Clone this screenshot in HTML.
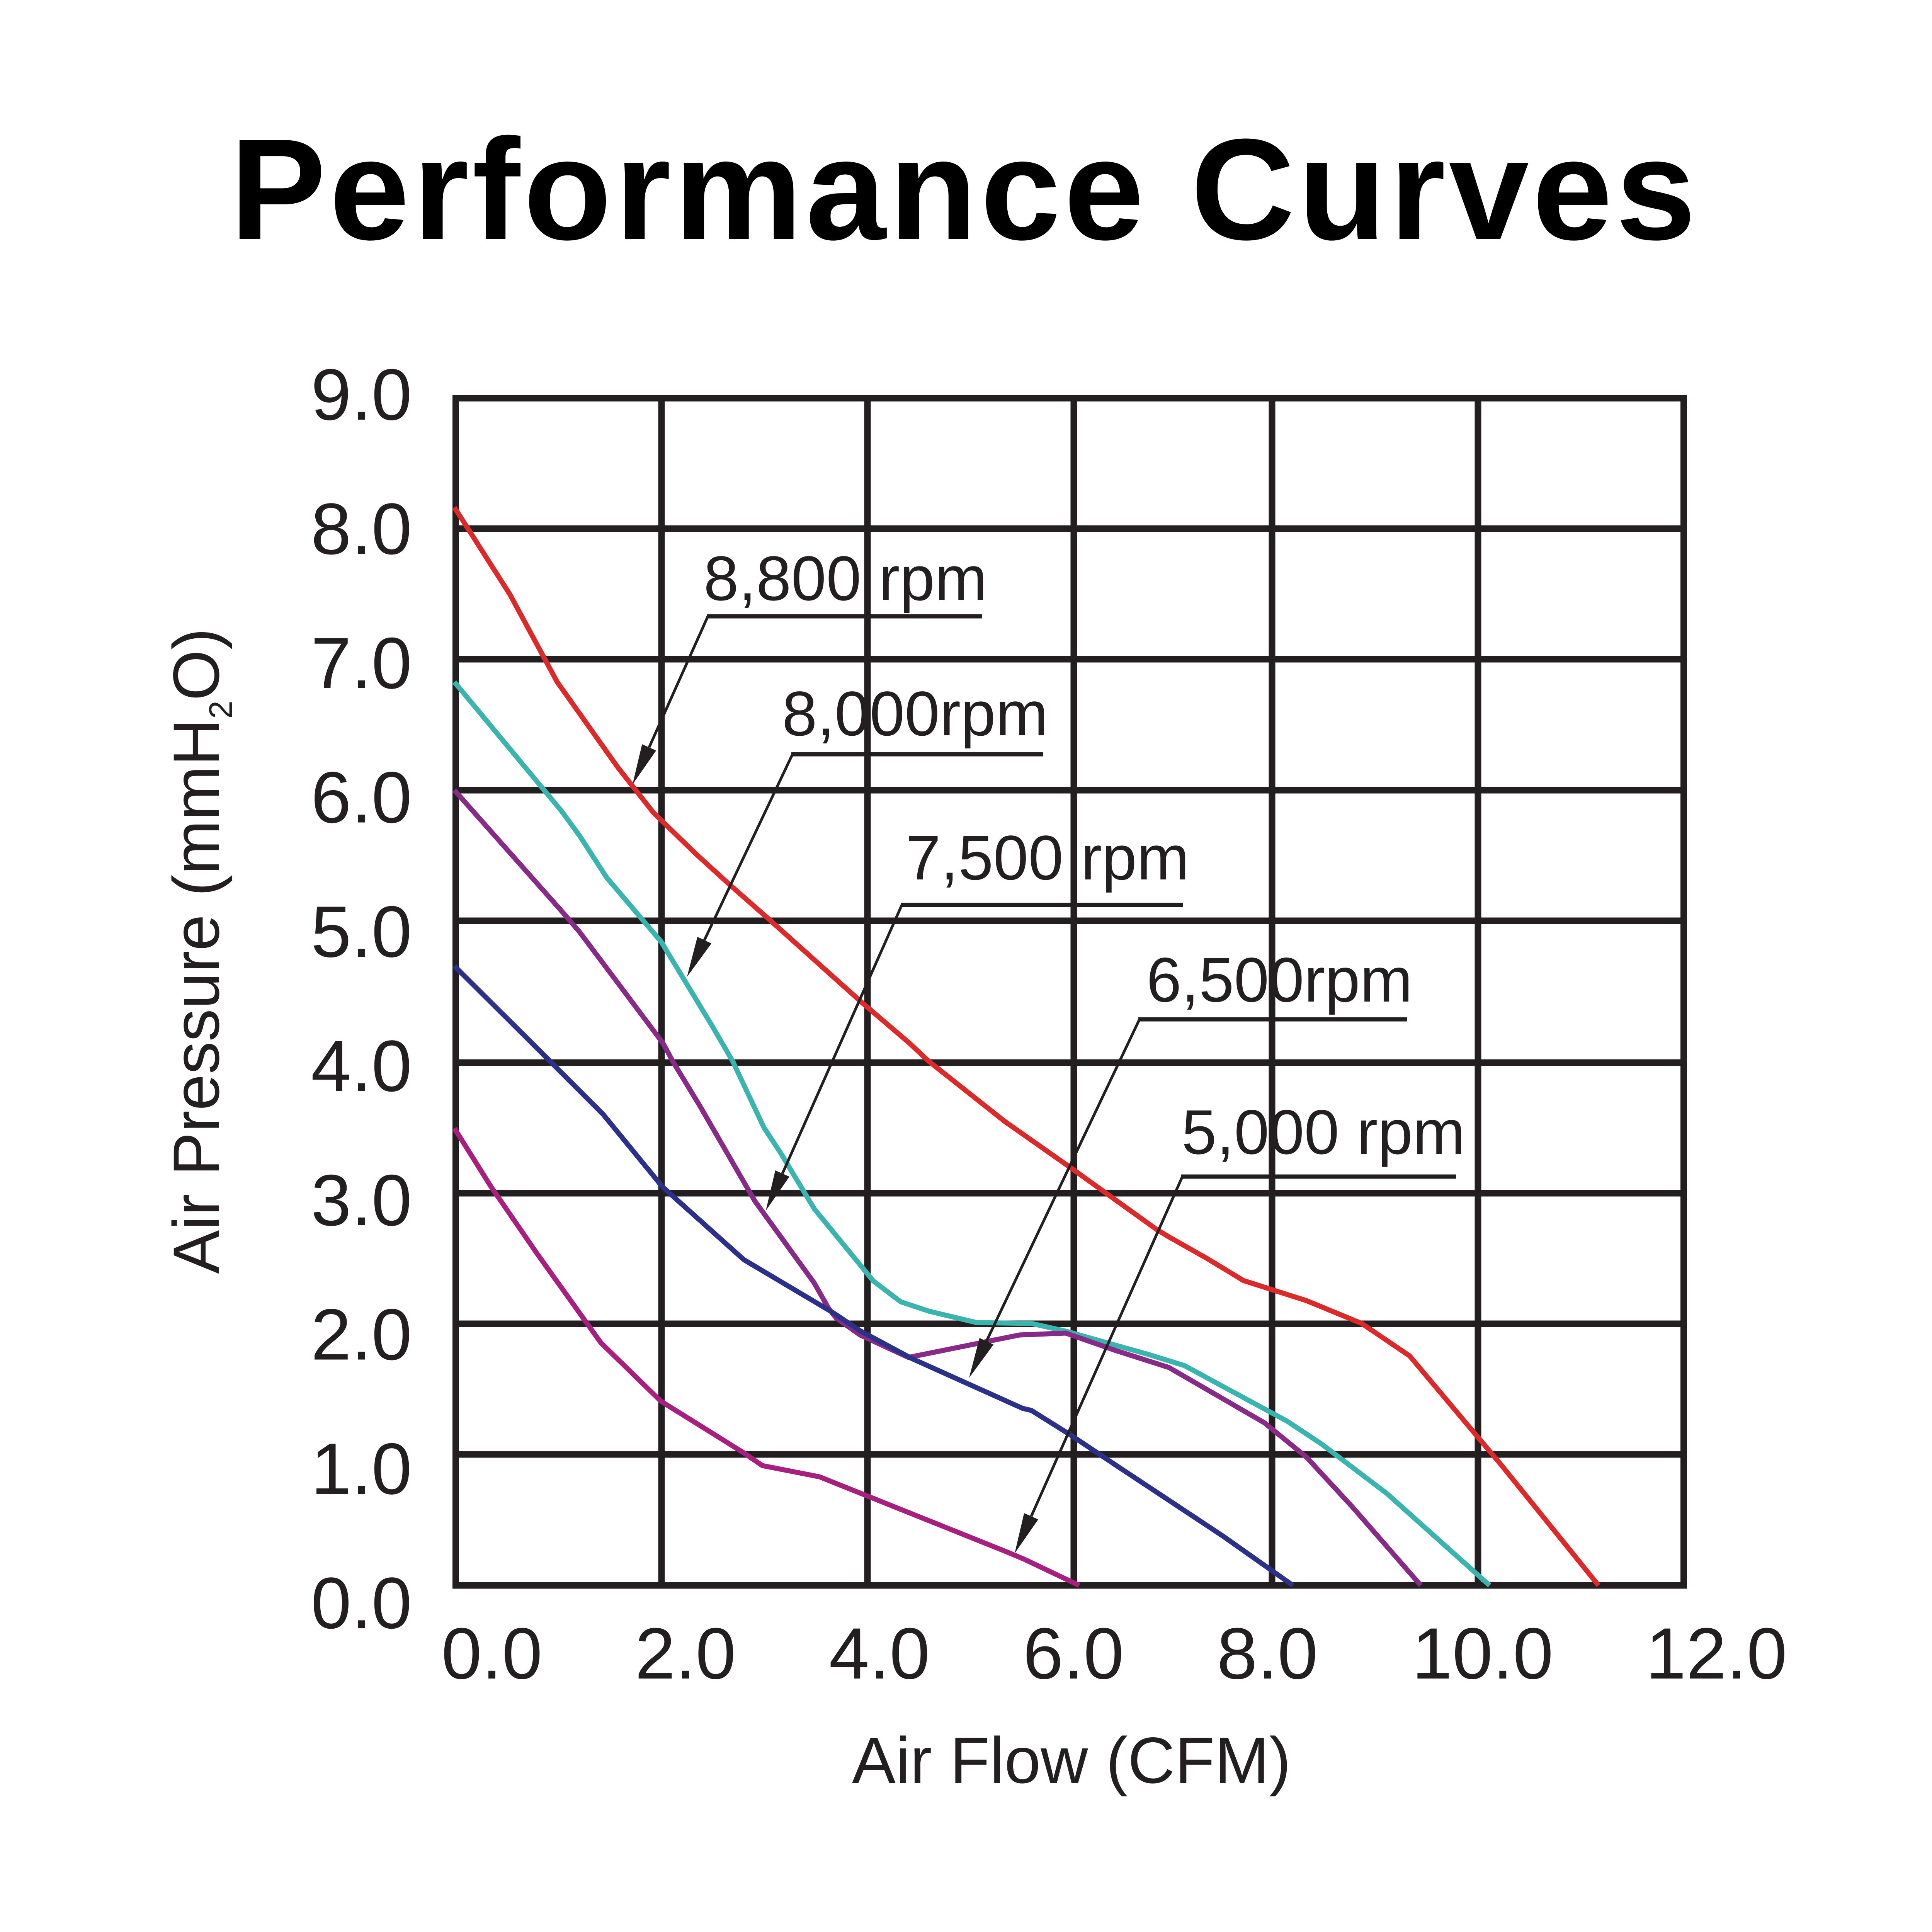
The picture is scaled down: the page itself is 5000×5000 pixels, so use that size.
<!DOCTYPE html>
<html>
<head>
<meta charset="utf-8">
<style>
html,body{margin:0;padding:0;background:#ffffff;}
svg{display:block;}
</style>
</head>
<body>
<svg width="5000" height="5000" viewBox="0 0 5000 5000" xmlns="http://www.w3.org/2000/svg">
<rect x="0" y="0" width="5000" height="5000" fill="#ffffff"/>

<!-- Title -->
<text x="595" y="619" font-family="'Liberation Sans', Arial, sans-serif" font-weight="bold" font-size="373" fill="#000000" textLength="3794" lengthAdjust="spacing">Performance Curves</text>

<!-- Grid -->
<g stroke="#231f20" stroke-width="17" stroke-linecap="square" fill="none">
  <line x1="1179.5" y1="1030.5" x2="1179.5" y2="4103"/>
  <line x1="1712" y1="1030.5" x2="1712" y2="4103"/>
  <line x1="2245" y1="1030.5" x2="2245" y2="4103"/>
  <line x1="2779" y1="1030.5" x2="2779" y2="4103"/>
  <line x1="3292" y1="1030.5" x2="3292" y2="4103"/>
  <line x1="3825" y1="1030.5" x2="3825" y2="4103"/>
  <line x1="4357.5" y1="1030.5" x2="4357.5" y2="4103"/>

  <line x1="1179.5" y1="1030.5" x2="4357.5" y2="1030.5"/>
  <line x1="1179.5" y1="1368" x2="4357.5" y2="1368"/>
  <line x1="1179.5" y1="1706" x2="4357.5" y2="1706"/>
  <line x1="1179.5" y1="2045" x2="4357.5" y2="2045"/>
  <line x1="1179.5" y1="2383" x2="4357.5" y2="2383"/>
  <line x1="1179.5" y1="2750" x2="4357.5" y2="2750"/>
  <line x1="1179.5" y1="3088" x2="4357.5" y2="3088"/>
  <line x1="1179.5" y1="3426" x2="4357.5" y2="3426"/>
  <line x1="1179.5" y1="3764" x2="4357.5" y2="3764"/>
  <line x1="1179.5" y1="4103" x2="4357.5" y2="4103"/>
</g>

<!-- Y tick labels -->
<g font-family="'Liberation Sans', Arial, sans-serif" font-size="188" fill="#231f20" text-anchor="end">
  <text x="1066" y="1086">9.0</text>
  <text x="1066" y="1433.5">8.0</text>
  <text x="1066" y="1781">7.0</text>
  <text x="1066" y="2128.5">6.0</text>
  <text x="1066" y="2476">5.0</text>
  <text x="1066" y="2823.5">4.0</text>
  <text x="1066" y="3171">3.0</text>
  <text x="1066" y="3518.5">2.0</text>
  <text x="1066" y="3866">1.0</text>
  <text x="1066" y="4213.5">0.0</text>
</g>

<!-- X tick labels -->
<g font-family="'Liberation Sans', Arial, sans-serif" font-size="188" fill="#231f20" text-anchor="middle">
  <text x="1273" y="4344">0.0</text>
  <text x="1774" y="4344">2.0</text>
  <text x="2276" y="4344">4.0</text>
  <text x="2778" y="4344">6.0</text>
  <text x="3280" y="4344">8.0</text>
  <text x="3837" y="4344">10.0</text>
  <text x="4442" y="4344">12.0</text>
</g>

<!-- Axis titles -->
<text x="2773" y="4614" font-family="'Liberation Sans', Arial, sans-serif" font-size="169" fill="#231f20" text-anchor="middle">Air Flow (CFM)</text>
<text x="566" y="2461" transform="rotate(-90 566 2461)" font-family="'Liberation Sans', Arial, sans-serif" font-size="169" fill="#231f20" text-anchor="middle">Air Pressure (mmH<tspan font-size="84" dy="34">2</tspan><tspan dy="-34">O)</tspan></text>

<!-- Curves -->
<g fill="none" stroke-width="13" stroke-linejoin="round" stroke-linecap="butt">
  <!-- 8,800 rpm red -->
  <polyline stroke="#dc2a2a" points="1176,1313 1320,1539 1442,1765 1599,1986 1691,2103 1799,2208 1890,2291 1989,2378 2230,2594 2354,2700 2403,2746 2600,2902 2768,3020 2995,3183 3025,3201 3124,3257 3218,3314 3381,3366 3524,3425 3648,3509 3885,3791 4137,4103"/>
  <!-- 8,000 rpm cyan -->
  <polyline stroke="#3bb3ae" points="1176,1765 1454,2100 1500,2163 1570,2271 1711,2437 1843,2655 1896,2746 1977,2918 2021,2985 2107,3128 2260,3315 2331,3369 2403,3393 2528,3423 2669,3425 2758,3445 2971,3505 3065,3534 3331,3678 3420,3737 3589,3865 3855,4103"/>
  <!-- 7,500 rpm purple -->
  <polyline stroke="#882a87" points="1176,2045 1451,2355 1500,2412 1716,2700 1743,2750 1810,2860 1954,3109 2107,3320 2145,3387 2164,3411 2226,3455 2351,3513 2638,3455 2758,3450 2887,3495 3025,3539 3272,3682 3381,3771 3500,3900 3677,4103"/>
  <!-- 6,500 rpm blue -->
  <polyline stroke="#2b3189" points="1176,2500 1365,2688 1561,2884 1714,3071 1925,3260 2154,3396 2226,3444 2360,3516 2647,3645 2669,3650 2768,3712 2897,3798 3163,3974 3346,4103"/>
  <!-- 5,000 rpm magenta -->
  <polyline stroke="#a8207f" points="1176,2920 1270,3070 1389,3243 1555,3475 1710,3626 1925,3760 1973,3793 2121,3822 2600,4014 2650,4035 2793,4103"/>
</g>

<!-- Annotations -->
<g font-family="'Liberation Sans', Arial, sans-serif" font-size="163" fill="#231f20">
  <text x="1821" y="1553">8,800 rpm</text>
  <text x="2024" y="1903">8,000rpm</text>
  <text x="2344" y="2276">7,500 rpm</text>
  <text x="2967" y="2592">6,500rpm</text>
  <text x="3058" y="2986">5,000 rpm</text>
</g>

<g stroke="#231f20" stroke-width="11" fill="none" stroke-linecap="butt">
  <line x1="1829" y1="1595" x2="2541" y2="1595"/>
  <line x1="2048" y1="1952" x2="2700" y2="1952"/>
  <line x1="2331" y1="2342" x2="3061" y2="2342"/>
  <line x1="2946" y1="2638" x2="3642" y2="2638"/>
  <line x1="3057" y1="3045" x2="3768" y2="3045"/>
</g>

<g stroke="#231f20" stroke-width="7" fill="none" stroke-linecap="butt">
  <line x1="1832" y1="1595" x2="1680" y2="1934"/>
  <line x1="2051" y1="1952" x2="1823" y2="2433"/>
  <line x1="2334" y1="2342" x2="2025" y2="3037"/>
  <line x1="2949" y1="2638" x2="2553" y2="3471"/>
  <line x1="3060" y1="3045" x2="2669" y2="3924"/>
</g>

<g fill="#231f20" stroke="none">
  <polygon points="1637,2030 1661.7,1926.0 1698.2,1942.4"/>
  <polygon points="1778,2528 1804.9,2424.5 1841.1,2441.7"/>
  <polygon points="1982,3133 2006.4,3029.0 2043.0,3045.2"/>
  <polygon points="2508,3566 2535.0,3462.6 2571.2,3479.8"/>
  <polygon points="2626,4020 2650.4,3916.0 2687.0,3932.2"/>
</g>

</svg>
</body>
</html>
